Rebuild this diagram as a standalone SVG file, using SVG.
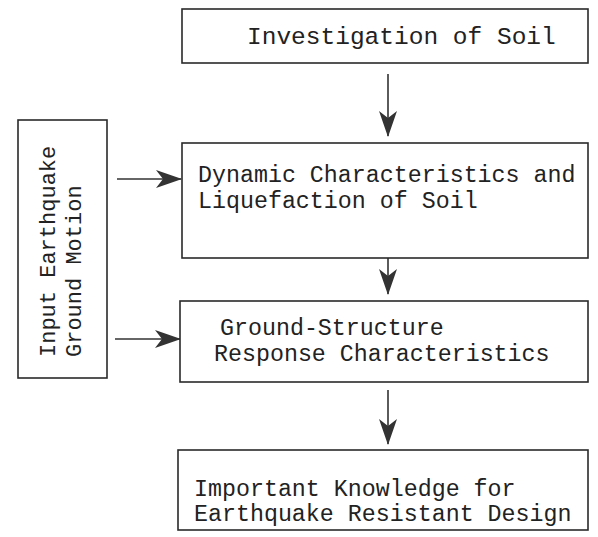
<svg xmlns="http://www.w3.org/2000/svg" width="598" height="537" viewBox="0 0 598 537">
<style>
.box{fill:#fff;stroke:#2a2a2a;stroke-width:1.6}
.t{font-family:"Liberation Mono","DejaVu Sans Mono",monospace;font-size:23.3px;fill:#222}
.c{stroke:#333;stroke-width:1.6;fill:none;marker-end:url(#ah)}
</style>
<defs>
<marker id="ah" viewBox="0 0 26 20" refX="25" refY="10" markerWidth="26" markerHeight="20" markerUnits="userSpaceOnUse" orient="auto">
<path d="M0,1 L26,10 L0,19 L7,10 Z" fill="#333"/>
</marker>
</defs>
<rect width="598" height="537" fill="#fff"/>
<g id="connectors">
<line class="c" x1="388" y1="74" x2="388" y2="136"/>
<line class="c" x1="388" y1="233" x2="388" y2="294"/>
<line class="c" x1="388" y1="390" x2="388" y2="444"/>
<line class="c" x1="117" y1="179" x2="181" y2="179"/>
<line class="c" x1="115" y1="339" x2="180" y2="339"/>
</g>
<g id="investigation">
<rect class="box" x="182" y="9" width="406" height="54"/>
<text class="t" x="247" y="44" style="font-size:24.5px">Investigation of Soil</text>
</g>
<g id="dynamic">
<rect class="box" x="182" y="143" width="406" height="115"/>
<text class="t" x="198" y="182">Dynamic Characteristics and</text>
<text class="t" x="198" y="208">Liquefaction of Soil</text>
</g>
<g id="ground-structure">
<rect class="box" x="180" y="301" width="408" height="81"/>
<text class="t" x="220" y="335">Ground-Structure</text>
<text class="t" x="214" y="361">Response Characteristics</text>
</g>
<g id="knowledge">
<rect class="box" x="178" y="450" width="410" height="80"/>
<text class="t" x="194" y="496">Important Knowledge for</text>
<text class="t" x="194" y="521">Earthquake Resistant Design</text>
</g>
<g id="input">
<rect class="box" x="18" y="120" width="89" height="258"/>
<text class="t" style="font-size:22px" transform="translate(55,357) rotate(-90)">Input Earthquake</text>
<text class="t" style="font-size:22px" transform="translate(81,357) rotate(-90)">Ground Motion</text>
</g>
</svg>
